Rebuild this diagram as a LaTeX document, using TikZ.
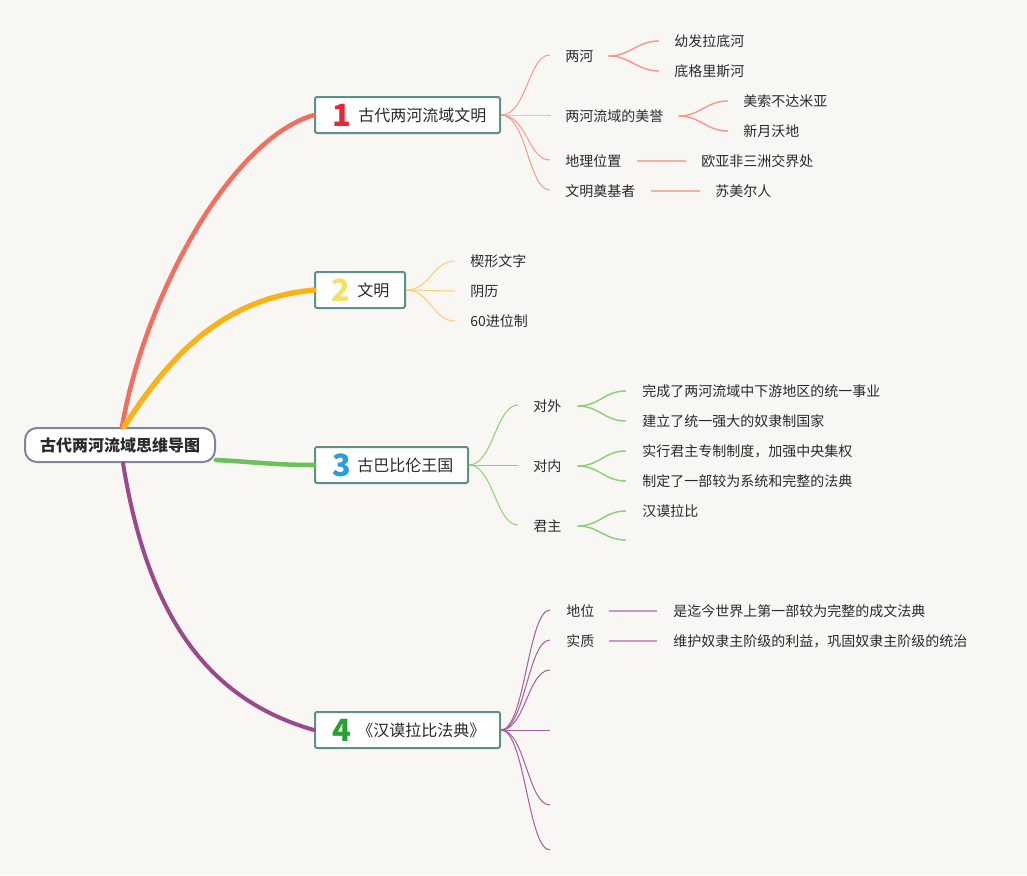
\documentclass[tikz,border=0pt]{standalone}
\usepackage{fontspec}
\setmainfont{Noto Sans CJK SC}
\usetikzlibrary{calc}
\definecolor{bg}{HTML}{F9F7F3}
\definecolor{rootc}{HTML}{80869A}
\definecolor{boxc}{HTML}{5E9088}
\definecolor{txt}{HTML}{2A2A2A}
\definecolor{redm}{HTML}{F36E5E}
\definecolor{orgm}{HTML}{FBB118}
\definecolor{grnm}{HTML}{6CC25A}
\definecolor{purm}{HTML}{9A4A8C}
\definecolor{redt}{HTML}{F39A8F}
\definecolor{orgt}{HTML}{FBCB74}
\definecolor{grnt}{HTML}{8FCF78}
\definecolor{purt}{HTML}{A65C9D}
\definecolor{purs}{HTML}{C998C2}
\definecolor{reds}{HTML}{F6AEA5}
\definecolor{nred}{HTML}{E0283C}
\definecolor{nyel}{HTML}{F1E266}
\definecolor{nblu}{HTML}{2A9BDB}
\definecolor{ngrn}{HTML}{27A032}
\begin{document}
\begin{tikzpicture}[x=0.75pt,y=-0.75pt,
  rootbox/.style={draw=rootc, line width=1.5pt, fill=white, rounded corners=9pt,
    minimum width=142.5pt, minimum height=25.5pt, inner sep=0pt,
    font=\bfseries\fontsize{12}{14}\selectfont, text=txt},
  topicbox/.style={draw=boxc, line width=1.5pt, fill=white, rounded corners=1.5pt,
    minimum height=27pt, inner sep=0pt},
  num/.style={font=\bfseries\fontsize{23}{24}\selectfont, inner sep=0pt},
  ttl/.style={font=\fontsize{12}{14}\selectfont, anchor=west, inner sep=0pt, text=txt},
  lbl/.style={font=\fontsize{10.5}{12}\selectfont, anchor=west, inner sep=0pt, text=txt},
  mainline/.style={line cap=round},
  thin/.style={line width=0.75pt},
  mid/.style={line width=1.1pt},
]
\fill[bg] (0,0) rectangle (1027,875);
\useasboundingbox (0,0) rectangle (1027,875);

% ---------- nodes ----------
\node[rootbox] (c) at (120,445) {古代两河流域思维导图};

\node[topicbox, minimum width=138.75pt] (b1) at (407.5,115) {};
\node[num, text=nred] (b1n) at (342,115) {1};
\node[ttl] (b1t) at (358,115) {古代两河流域文明};

\node[topicbox, minimum width=67.5pt] (b2) at (360,290) {};
\node[num, text=nyel] (b2n) at (341,290) {2};
\node[ttl] (b2t) at (357,290) {文明};

\node[topicbox, minimum width=114.75pt] (b3) at (391.5,465) {};
\node[num, text=nblu] (b3n) at (342,465) {3};
\node[ttl] (b3t) at (357,465) {古巴比伦王国};

\node[topicbox, minimum width=138.75pt] (b4) at (407.5,730) {};
\node[num, text=ngrn] (b4n) at (342,730) {4};
\node[ttl] (b4t) at (357,730) {《汉谟拉比法典》};

% branch 1
\node[lbl] (r1) at (565,56) {两河};
\node[lbl] (r2) at (565,116) {两河流域的美誉};
\node[lbl] (r3) at (565,161) {地理位置};
\node[lbl] (r4) at (565,191) {文明奠基者};
\node[lbl] (r11) at (674,41) {幼发拉底河};
\node[lbl] (r12) at (674,71) {底格里斯河};
\node[lbl] (r21) at (743,101) {美索不达米亚};
\node[lbl] (r22) at (743,131) {新月沃地};
\node[lbl] (r31) at (701,161) {欧亚非三洲交界处};
\node[lbl] (r41) at (715,191) {苏美尔人};

% branch 2
\node[lbl] (o1) at (470,261) {楔形文字};
\node[lbl] (o2) at (470,291) {阴历};
\node[lbl] (o3) at (470,321) {60进位制};

% branch 3
\node[lbl] (g1) at (533,406) {对外};
\node[lbl] (g2) at (533,466) {对内};
\node[lbl] (g3) at (533,526) {君主};
\node[lbl] (g11) at (642,391) {完成了两河流域中下游地区的统一事业};
\node[lbl] (g12) at (642,421) {建立了统一强大的奴隶制国家};
\node[lbl] (g21) at (642,451) {实行君主专制制度，加强中央集权};
\node[lbl] (g22) at (642,481) {制定了一部较为系统和完整的法典};
\node[lbl] (g31) at (642,511) {汉谟拉比};
\coordinate (g32) at (626,540);

% branch 4
\node[lbl] (p1) at (566,611) {地位};
\node[lbl] (p2) at (566,641) {实质};
\coordinate (p3) at (550,670);
\coordinate (p4) at (550,730);
\coordinate (p5) at (550,805);
\coordinate (p6) at (550,850);
\node[lbl] (p11) at (673,611) {是迄今世界上第一部较为完整的成文法典};
\node[lbl] (p21) at (673,641) {维护奴隶主阶级的利益，巩固奴隶主阶级的统治};

% ---------- main branches ----------
\draw[mainline, redm, line width=3.4pt] ($(c.north)+(2,0)$) .. controls +(22,-128) and +(-85,25) .. (b1.west);
\draw[mainline, orgm, line width=4pt] ($(c.north)+(4,0)$) .. controls +(51,-80) and +(-85,8) .. (b2.west);
\draw[mainline, grnm, line width=3.4pt] ($(c.south east)+(0,-3)$) .. controls +(40,2) and +(-40,0) .. (b3.west);
\draw[mainline, purm, line width=3pt] ($(c.south)+(3,0)$) .. controls +(25,155) and +(-105,-30) .. (b4.west);

% ---------- branch 1 links ----------
\foreach \n in {r1,r2,r3,r4}
  \draw[redt, thin] (b1.east) .. controls +(26,0) and +(-22,0) .. ($(\n.west)+(-15,-1)$);
\foreach \a/\b in {r1/r11,r1/r12,r2/r21,r2/r22}
  \draw[redt, mid] ($(\a.east)+(15,0)$) .. controls +(22,0) and +(-22,0) .. ($(\b.west)+(-15,0)$);
\draw[reds, line width=1.4pt] ($(r3.east)+(15,0)$) -- ($(r31.west)+(-15,0)$);
\draw[reds, line width=1.4pt] ($(r4.east)+(15,0)$) -- ($(r41.west)+(-15,0)$);

% ---------- branch 2 links ----------
\foreach \n in {o1,o2,o3}
  \draw[orgt, thin] (b2.east) .. controls +(24,0) and +(-22,0) .. ($(\n.west)+(-15,0)$);

% ---------- branch 3 links ----------
\foreach \n in {g1,g2,g3}
  \draw[grnt, thin] (b3.east) .. controls +(24,0) and +(-22,0) .. ($(\n.west)+(-15,-1)$);
\foreach \a/\b in {g1/g11,g1/g12,g2/g21,g2/g22,g3/g31}
  \draw[grnt, mid] ($(\a.east)+(16,0)$) .. controls +(22,0) and +(-22,0) .. ($(\b.west)+(-16,0)$);
\draw[grnt, mid] ($(g3.east)+(16,0)$) .. controls +(22,0) and +(-22,0) .. (g32);

% ---------- branch 4 links ----------
\foreach \n in {p1,p2}
  \draw[purt, thin] (b4.east) .. controls +(24,0) and +(-22,0) .. ($(\n.west)+(-16,-1)$);
\foreach \n in {p3,p4,p5,p6}
  \draw[purt, thin] (b4.east) .. controls +(24,0) and +(-22,0) .. (\n);
\draw[purs, line width=1.4pt] ($(p1.east)+(14,0)$) -- ($(p11.west)+(-16,0)$);
\draw[purs, line width=1.4pt] ($(p2.east)+(14,0)$) -- ($(p21.west)+(-16,0)$);
\end{tikzpicture}
\end{document}
